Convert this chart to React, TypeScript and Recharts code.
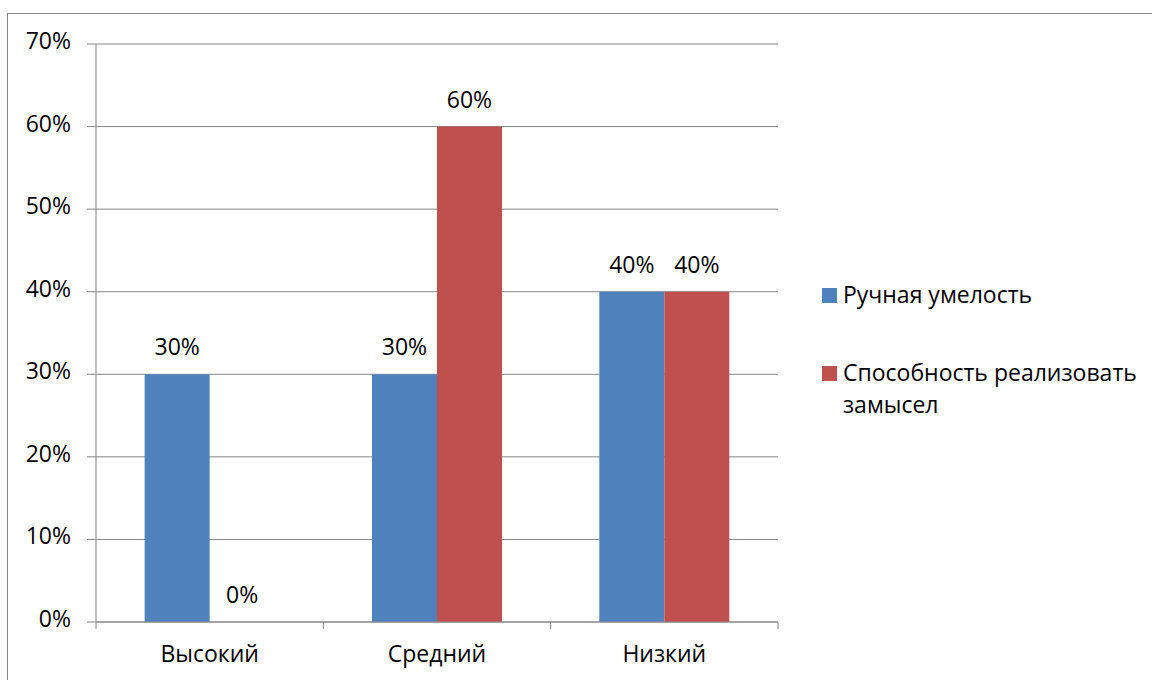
import React from 'react';
import { BarChart, Bar, XAxis, YAxis, CartesianGrid, LabelList, Legend } from 'recharts';

const categories = ['Высокий', 'Средний', 'Низкий'];
const manualSkill = [30, 30, 40];
const realizeIdea = [0, 60, 40];
const yTicks = [0, 10, 20, 30, 40, 50, 60, 70];
const seriesNames = ['Ручная умелость', 'Способность реализовать замысел'];
const seriesColors = ['#4F81BD', '#C0504D'];

const data = categories.map((c, i) => ({ name: c, a: manualSkill[i], b: realizeIdea[i] }));

const W = 1152;
const H = 680;
const M = { top: 44, right: 374, left: 0, bottom: 0 };
const Y_W = 96;
const X_H = 58;
const BAND = (W - Y_W - M.right) / categories.length;
const FONT = '"Open Sans", sans-serif';
const FS = 23;
const GRAY = '#868686';

const XTick = (props: any) => {
  const { x, y, payload, index } = props;
  const last = index === categories.length - 1;
  return (
    <g>
      <line x1={x - BAND / 2} x2={x - BAND / 2} y1={y} y2={y + 7} stroke={GRAY} strokeWidth={1} />
      {last && <line x1={x + BAND / 2} x2={x + BAND / 2} y1={y} y2={y + 7} stroke={GRAY} strokeWidth={1} />}
      <text x={x} y={y + 40} textAnchor="middle" fill="#000" fontSize={FS} fontFamily={FONT}>
        {payload.value}
      </text>
    </g>
  );
};

const YTick = (props: any) => {
  const { x, y, payload } = props;
  return (
    <text x={x} y={y} dy={5} textAnchor="end" fill="#000" fontSize={FS} fontFamily={FONT}>
      {`${payload.value}%`}
    </text>
  );
};

const LegendContent = () => (
  <div style={{ fontFamily: FONT, fontSize: FS, lineHeight: '32px', color: '#000', width: 330 }}>
    {seriesNames.map((n, i) => (
      <div key={n} style={{ display: 'flex', alignItems: 'flex-start', marginBottom: i === 0 ? 46 : 0 }}>
        <div style={{ width: 15, height: 15, background: seriesColors[i], marginTop: 9.5, marginRight: 6, flexShrink: 0 }} />
        <div style={{ width: 305 }}>{n}</div>
      </div>
    ))}
  </div>
);

export default function App() {
  return (
    <div style={{ position: 'fixed', left: 0, top: 0, width: W, height: H, overflow: 'hidden', background: '#fff' }}>
      <div style={{ position: 'absolute', left: 7, top: 13, width: 1300, height: 800, border: '1.5px solid #888', boxSizing: 'border-box' }} />
      <div style={{ position: 'absolute', left: 0, top: 0 }}>
        <BarChart width={W} height={H} data={data} margin={M} barCategoryGap="21.4%" barGap={0}>
          <CartesianGrid horizontal vertical={false} stroke={GRAY} strokeWidth={1} />
          <XAxis
            dataKey="name"
            height={X_H}
            axisLine={{ stroke: GRAY }}
            tickLine={false}
            tickSize={0}
            tickMargin={0}
            tick={<XTick />}
            interval={0}
          />
          <YAxis
            width={Y_W}
            domain={[0, 70]}
            ticks={yTicks}
            interval={0}
            axisLine={{ stroke: GRAY }}
            tickLine={{ stroke: GRAY }}
            tickSize={9}
            tickMargin={16}
            tick={<YTick />}
          />
          <Legend
            layout="horizontal"
            verticalAlign="middle"
            align="right"
            content={<LegendContent />}
            wrapperStyle={{ left: 822, top: 278, width: 0, height: 0, overflow: 'visible' }}
          />
          <Bar dataKey="a" name={seriesNames[0]} fill={seriesColors[0]} isAnimationActive={false}>
            <LabelList dataKey="a" position="top" offset={19} formatter={(v: any) => `${v}%`} fill="#000" fontSize={FS} fontFamily={FONT} />
          </Bar>
          <Bar dataKey="b" name={seriesNames[1]} fill={seriesColors[1]} minPointSize={0.01} isAnimationActive={false}>
            <LabelList dataKey="b" position="top" offset={19} formatter={(v: any) => `${v}%`} fill="#000" fontSize={FS} fontFamily={FONT} />
          </Bar>
        </BarChart>
      </div>
    </div>
  );
}
